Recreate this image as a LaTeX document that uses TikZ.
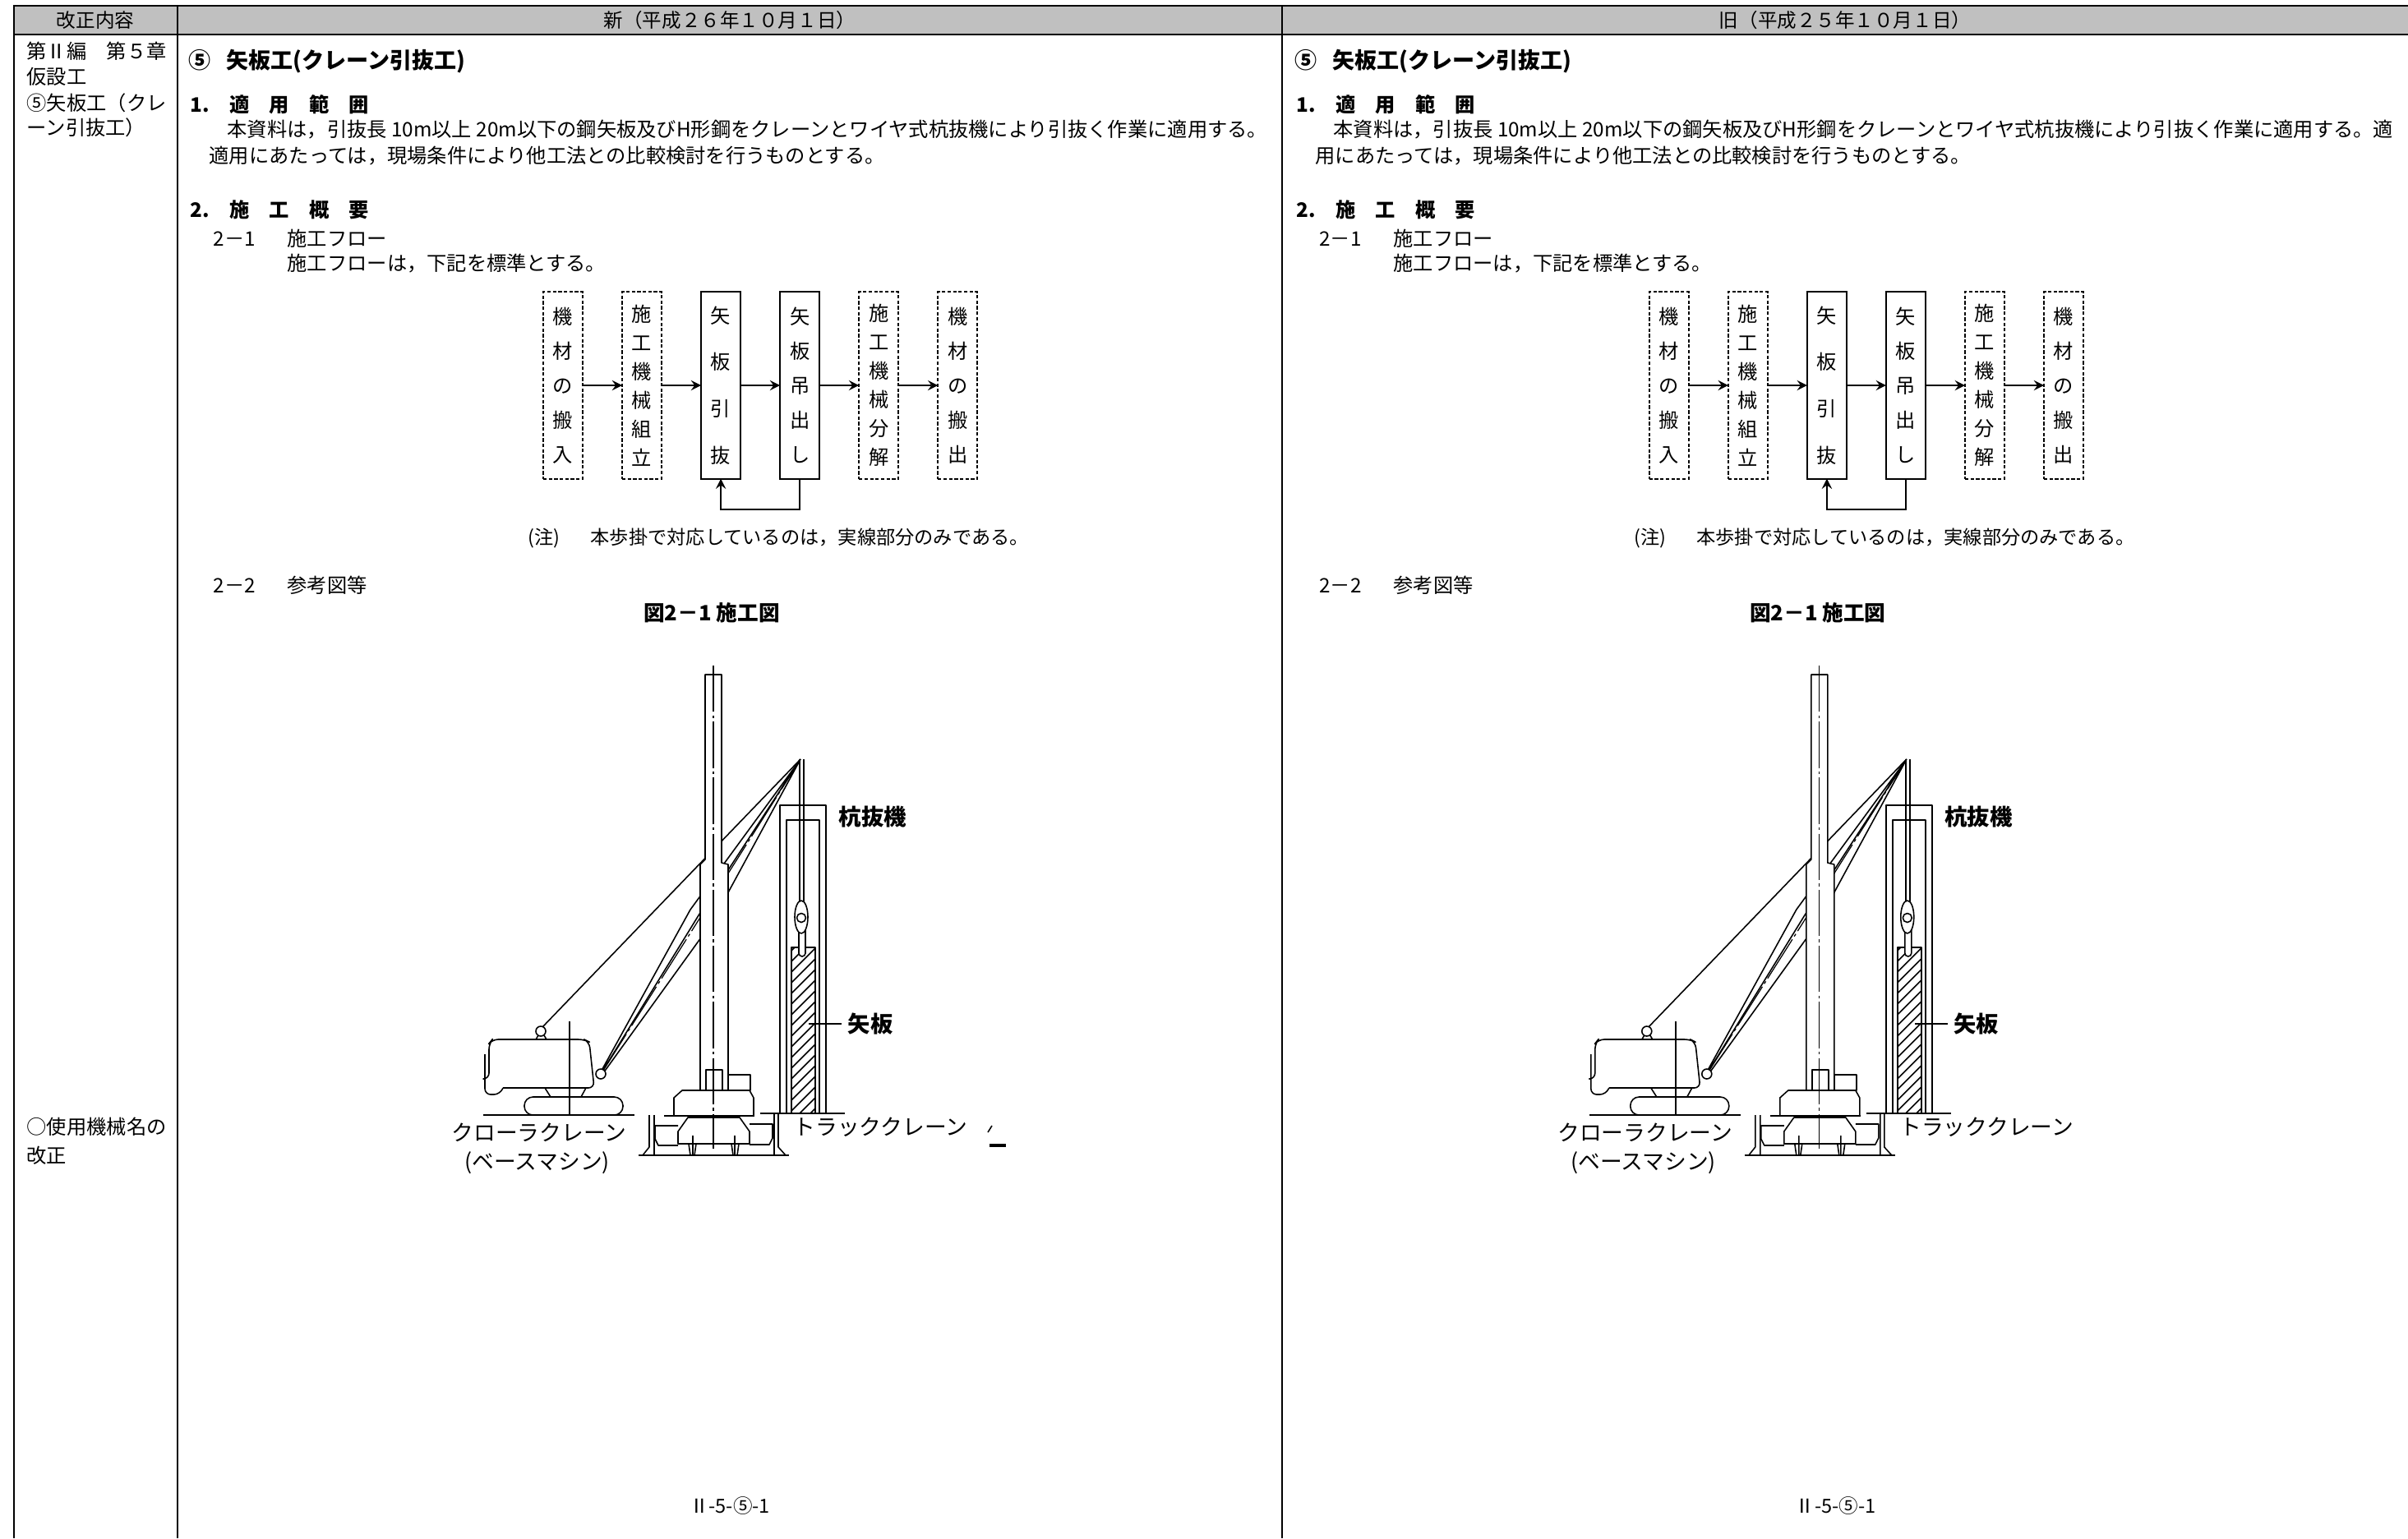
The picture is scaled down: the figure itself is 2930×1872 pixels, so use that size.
\documentclass[tikz,border=0pt]{standalone}
\usepackage{fontspec}
\newfontfamily\jp{Noto Sans CJK JP}
\usetikzlibrary{positioning}
\definecolor{headgray}{RGB}{192,192,192}
\tikzset{
  rule/.style={line width=0.8pt},
  head/.style={inner sep=0pt, font=\jp\fontsize{6.7}{8}\selectfont},
  txt/.style={anchor=west, inner sep=0pt, font=\jp\fontsize{6.9}{8}\selectfont},
  ttl/.style={anchor=west, inner sep=0pt, font=\jp\bfseries\fontsize{7.7}{9}\selectfont},
  hd/.style={anchor=west, inner sep=0pt, font=\jp\bfseries\fontsize{6.9}{9}\selectfont},
  flowbox/.style={draw, line width=0.55pt, minimum width=0.48cm, minimum height=2.27cm,
    inner sep=0pt, outer sep=0pt, align=center, font=\jp\fontsize{6.9}{#1}\selectfont},
  flowdash/.style={flowbox=#1, dash pattern=on 1.2pt off 0.7pt},
  flowarrow/.style={->, >=stealth, line width=0.55pt},
  rig/.style={line width=0.45pt, line join=round},
  centreline/.style={rig, line width=0.35pt, dash pattern=on 16pt off 1.2pt on 1pt off 1.2pt},
  rigtag/.style={anchor=west, inner sep=0pt, font=\jp\fontsize{7.6}{9}\selectfont},
  rigtag-bold/.style={rigtag, font=\jp\bfseries\fontsize{7.8}{9}\selectfont}
}
% flow of the work, six steps
\newcommand{\flowrow}[1]{
  \node[flowdash=11.95pt] (#1-1) at (685,469) {機\\材\\の\\搬\\入};
  \node[flowdash=9.96pt, right=0.48cm of #1-1] (#1-2) {施\\工\\機\\械\\組\\立};
  \node[flowbox=16.1pt, right=0.48cm of #1-2] (#1-3) {矢\\板\\引\\抜};
  \node[flowbox=11.95pt, right=0.48cm of #1-3] (#1-4) {矢\\板\\吊\\出\\し};
  \node[flowdash=9.96pt, right=0.48cm of #1-4] (#1-5) {施\\工\\機\\械\\分\\解};
  \node[flowdash=11.95pt, right=0.48cm of #1-5] (#1-6) {機\\材\\の\\搬\\出};
  \foreach \a/\b in {1/2,2/3,3/4,4/5,5/6}
    \draw[flowarrow] (#1-\a) -- (#1-\b);
  \draw[flowarrow] (#1-4.south) -- ++(0,37) -| (#1-3.south);
}
% crane, mast and pile extractor
\newcommand{\pilerig}[1]{
  % ground
  \draw[rig] (588,1357) -- (772,1357) (808,1358) -- (918,1358)
    (925,1355) -- (1028,1355) (777,1406) -- (960,1406);
  % crawler crane
  \draw[rig, rounded corners=3pt] (638,1335) rectangle (758,1357);
  \draw[rig] (663,1324) -- (670,1335) (713,1324) -- (707,1335);
  \draw[rig, rounded corners=2pt] (612,1324) -- (723,1324) -- (717,1268) -- (711,1265)
    -- (599,1265) -- (595,1270) -- (595,1313) -- (590,1313);
  \draw[rig, rounded corners=2pt] (590,1283) -- (590,1332) -- (608,1332) -- (612,1324);
  \draw[rig] (652,1265) -- (655,1260) -- (662,1260) -- (665,1265);
  \draw[rig] (693,1243) -- (693,1357);
  % boom and pendant
  \draw[rig] (660,1250) -- (974,924);
  \draw[rig] (728,1310) -- (840,1107) -- (974,924)
    (734,1306) -- (866,1123) -- (974,924)
    (731,1307) -- (850,1114) -- (974,924);
  \draw[centreline] (732,1306) -- (974,924);
  \draw[rig, fill=white] (658,1255) circle[radius=0.06cm];
  \draw[rig, fill=white] (731,1307) circle[radius=0.06cm];
  % pile extractor
  \draw[rig] (949,1355) -- (949,980) -- (1005,980) -- (1005,1355);
  \draw[rig] (957,1355) -- (957,998) -- (997,998) -- (997,1355);
  \begin{scope}
    \clip (963,1153) rectangle (992,1354);
    \foreach \k in {0,...,18}
      \draw[rig] (960,1160+\k*13) -- ++(36,-36);
  \end{scope}
  \draw[rig] (963,1354) -- (963,1153) -- (992,1153) -- (992,1354);
  \draw[rig] (973,924) -- (973,1100) (978,924) -- (978,1100);
  \draw[rig, fill=white] (972,1130) -- (972,1160)
    arc[start angle=180, end angle=360, radius=0.04cm] -- (980,1130);
  \draw[rig, fill=white] (975,1116) ellipse[x radius=0.08cm, y radius=0.2cm];
  \draw[rig] (975,1117) circle[radius=0.055cm];
  % mast
  \draw[rig, fill=white] (858,821) -- (878,821) -- (878,1050) -- (886,1052) -- (886,1327)
    -- (852,1327) -- (852,1052) -- (858,1046) -- cycle;
  \draw[rig] (859,1302) rectangle (879,1327) (886,1308) rectangle (913,1327);
  \draw[rig] (820,1357) -- (820,1336) -- (830,1327) -- (912,1327) -- (917,1336) -- (917,1357);
  \draw[rig] (837,1360) -- (900,1360) -- (912,1377) -- (912,1392) -- (825,1392) -- (825,1377) -- cycle;
  \draw[rig] (838,1392) -- (840,1406) (847,1392) -- (845,1406) (890,1392) -- (892,1406)
    (899,1392) -- (897,1406) (843,1382) -- (843,1406) (894,1382) -- (894,1406);
  \draw[rig] (825,1370) -- (797,1370) -- (797,1386) -- (801,1394) -- (825,1394);
  \draw[rig] (912,1368) -- (940,1368) -- (940,1385) -- (936,1393) -- (912,1393);
  \draw[rig] (790,1357) -- (790,1396) -- (782,1406) (796,1357) -- (796,1406);
  \draw[rig] (942,1355) -- (942,1406) (947,1355) -- (947,1396) -- (956,1406);
  \draw[centreline] (868,810) -- (868,1398);
  % labels
  \node[rigtag-bold] (#1-kui) at (1020,994) {杭抜機};
  \node[rigtag-bold] (#1-yaita) at (1031,1246) {矢板};
  \coordinate (#1-plate) at (984,1246);
  \draw[rig, shorten >=2pt] (#1-plate) -- (#1-yaita.west);
  \node[rigtag] (#1-crawler) at (549,1378) {クローラクレーン};
  \node[rigtag] (#1-base) at (565,1415) {(ベースマシン)};
  \node[rigtag] (#1-truck) at (965,1372) {トラッククレーン};
}
% one column of the sheet
\newcommand{\sheet}[3]{
  \node[ttl] (#1-title) at (229,75) {⑤\hspace{0.7em}矢板工(クレーン引抜工)};
  \node[hd] (#1-sec1) at (231,127) {1.　適　用　範　囲};
  \node[txt] (#1-body1) at (276,158) {#2};
  \node[txt] (#1-body2) at (254,190) {#3};
  \node[hd] (#1-sec2) at (231,255) {2.　施　工　概　要};
  \node[txt] (#1-sub1) at (259,290) {2－1\hspace{1.6em}施工フロー};
  \node[txt] (#1-std) at (349,321) {施工フローは，下記を標準とする。};
  \flowrow{#1}
  \node[txt, font=\jp\fontsize{6.6}{8}\selectfont] (#1-note) at (642,655)
    {(注)\hspace{1.6em}本歩掛で対応しているのは，実線部分のみである。};
  \node[txt] (#1-sub2) at (259,712) {2－2\hspace{1.6em}参考図等};
  \node[hd, anchor=center, font=\jp\bfseries\fontsize{7.3}{9}\selectfont] (#1-fig) at (866,746) {図2－1 施工図};
  \pilerig{#1}
  \node[head] (#1-page) at (888,1833) {Ⅱ-5-⑤-1};
}

\begin{document}
\begin{tikzpicture}[x=0.01cm, y=-0.01cm]
  \useasboundingbox (0,0) rectangle (2930,1872);
  % table
  \fill[headgray] (17,7) rectangle (2930,42);
  \draw[rule] (2930,7) -- (17,7) -- (17,1872) (216,7) -- (216,1872)
    (1560,7) -- (1560,1872) (17,42) -- (2930,42);
  \node[head] (hd-rev) at (116,25) {改正内容};
  \node[head] (hd-new) at (888,25) {新（平成２６年１０月１日）};
  \node[head] (hd-old) at (2245,25) {旧（平成２５年１０月１日）};
  % left column
  \node[txt] (lc1) at (32,62) {第Ⅱ編　第５章};
  \node[txt] (lc2) at (32,93) {仮設工};
  \node[txt] (lc3) at (32,125) {⑤矢板工（クレ};
  \node[txt] (lc4) at (32,155) {ーン引抜工）};
  \node[txt] (lc5) at (32,1371) {○使用機械名の};
  \node[txt] (lc6) at (32,1406) {改正};
  % new
  \sheet{new}{本資料は，引抜長 10m以上 20m以下の鋼矢板及びH形鋼をクレーンとワイヤ式杭抜機により引抜く作業に適用する。}{適用にあたっては，現場条件により他工法との比較検討を行うものとする。}
  \draw[rig] (1202,1378) -- (1207,1370);
  \draw[line width=1.1pt] (1204,1394) -- (1224,1394);
  % old
  \begin{scope}[xshift=13.45cm]
    \sheet{old}{本資料は，引抜長 10m以上 20m以下の鋼矢板及びH形鋼をクレーンとワイヤ式杭抜機により引抜く作業に適用する。適}{用にあたっては，現場条件により他工法との比較検討を行うものとする。}
  \end{scope}
\end{tikzpicture}
\end{document}
